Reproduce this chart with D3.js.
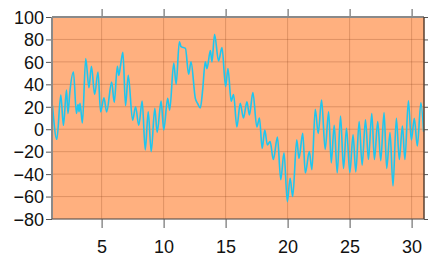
<!DOCTYPE html>
<html>
<head>
<meta charset="utf-8">
<script src="https://cdn.jsdelivr.net/npm/d3@7"></script>
<style>
  body { margin: 0; background: #fff; }
  svg { display: block; font-family: "Liberation Sans", Arial, sans-serif; }
</style>
</head>
<body>
<svg width="428" height="256"></svg>
<script>
// day of month and value
const days = [
  1.04, 1.39, 1.71, 1.92, 2.17, 2.29, 2.43, 2.73, 2.97, 3.10, 3.18, 3.26, 3.45, 3.72, 3.98,
  4.18, 4.44, 4.71, 4.92, 5.19, 5.41, 5.81, 6.02, 6.27, 6.39, 6.53, 6.72, 6.93, 7.15, 7.50,
  7.74, 8.00, 8.27, 8.52, 8.76, 9.00, 9.29, 9.48, 9.80, 10.01, 10.33, 10.49, 10.82, 11.01, 11.27,
  11.41, 11.76, 12.02, 12.21, 12.56, 12.74, 12.96, 13.15, 13.36, 13.50, 13.77, 13.90, 14.11, 14.43, 14.71,
  15.00, 15.19, 15.45, 15.64, 15.91, 16.18, 16.44, 16.72, 16.92, 17.20, 17.52, 17.73, 17.95, 18.16, 18.37,
  18.59, 18.85, 19.18, 19.45, 19.71, 19.98, 20.20, 20.41, 20.74, 20.92, 21.22, 21.43, 21.75, 21.96, 22.23,
  22.47, 22.74, 23.03, 23.31, 23.52, 23.76, 24.00, 24.27, 24.51, 24.75, 25.02, 25.28, 25.50, 25.77, 26.01,
  26.28, 26.52, 26.79, 27.00, 27.27, 27.51, 27.78, 27.99, 28.26, 28.50, 28.77, 29.01, 29.26, 29.46, 29.74,
  29.98, 30.22, 30.46, 30.75, 30.97
];
const values = [
  21, -9, 30.5, 3.5, 35, 14, 32, 51, 14, 22, 15.6, 23, 5.5, 63, 37,
  56, 31, 51, 15.5, 28, 15.5, 42, 24, 56, 48, 57, 68.5, 21, 48, 8,
  20, 3.5, 25, -18.5, 15.5, -20, 18.6, -2.8, 25, -0.7, 27.5, 17, 59, 40, 78,
  73.5, 72, 49, 60, 27.5, 23, 19, 35, 60, 54, 70, 60, 84.6, 60.8, 72.7,
  38, 54, 25, 31, 2, 23, 10, 24.5, 12.7, 32.6, 2, 10, -17, -0.7, -14,
  -11, -27, -7, -45, -21, -64.6, -43.7, -60, -9.4, -26, -3.7, -39, -20, -36, 17.8,
  -3.7, 26, -18, 15.6, -30, 3.6, -39, 11.8, -35, 0.8, -38.7, -5, -38, 6.9, -32,
  8.3, -26.8, 14, -27, 6.9, -28, 14.8, -35, -2.9, -50.6, 9.8, -27, 2.8, -27, 25.4,
  -9.6, 9.8, -15, 23.6, -2.2
];
const xTicks = [5, 10, 15, 20, 25, 30];
const yTicks = [-80, -60, -40, -20, 0, 20, 40, 60, 80, 100];

const data = days.map((d, i) => ({day: d, value: values[i]}));

const margin = {top: 17, right: 4, bottom: 37, left: 52},
    width = 428 - margin.left - margin.right,
    height = 256 - margin.top - margin.bottom;

const svg = d3.select("svg");
const g = svg.append("g")
    .attr("transform", `translate(${margin.left}, ${margin.top})`);

const x = d3.scaleLinear().domain([1, 31]).range([0, width]);
const y = d3.scaleLinear().domain([-80, 100]).range([height, 0]);

// plot background
g.append("rect")
    .attr("width", width)
    .attr("height", height)
    .attr("fill", "#ffb07f");

// grid
g.append("g").selectAll("line").data(xTicks).enter().append("line")
    .attr("x1", d => x(d)).attr("x2", d => x(d))
    .attr("y1", 0).attr("y2", height)
    .attr("stroke", "rgba(140,70,30,0.28)");
g.append("g").selectAll("line").data(yTicks).enter().append("line")
    .attr("y1", d => y(d)).attr("y2", d => y(d))
    .attr("x1", 0).attr("x2", width)
    .attr("stroke", "rgba(140,70,30,0.28)");

// the line
const line = d3.line()
    .x(d => x(d.day))
    .y(d => y(d.value))
    .curve(d3.curveMonotoneX);

g.append("path")
    .datum(data)
    .attr("fill", "none")
    .attr("stroke", "#1ec6ef")
    .attr("stroke-width", 1.6)
    .attr("d", line);

// axes
const xAxis = g.append("g")
    .attr("transform", `translate(0, ${height})`)
    .call(d3.axisBottom(x).tickValues(xTicks).tickSize(9).tickPadding(12));
const xTop = g.append("g")
    .call(d3.axisTop(x).tickValues(xTicks).tickSize(8).tickFormat(""));
const yAxis = g.append("g")
    .call(d3.axisLeft(y).tickValues(yTicks).tickSize(6).tickPadding(2));
const yRight = g.append("g")
    .attr("transform", `translate(${width}, 0)`)
    .call(d3.axisRight(y).tickValues(yTicks).tickSize(5).tickFormat(""));

[xAxis, xTop, yAxis, yRight].forEach(a => {
    a.select(".domain").remove();
    a.selectAll(".tick line").attr("stroke", "#555");
    a.selectAll("text")
        .attr("fill", "#111")
        .attr("font-size", "18px")
        .attr("font-family", "Liberation Sans, Arial, sans-serif");
});
yAxis.selectAll("text").attr("dy", "0.35em");

// frame
g.append("line").attr("x1", 0).attr("x2", width).attr("y1", 0).attr("y2", 0)
    .attr("stroke", "#8a8a8a").attr("stroke-width", 2);
g.append("line").attr("x1", 0).attr("x2", 0).attr("y1", 0).attr("y2", height)
    .attr("stroke", "#8a8a8a").attr("stroke-width", 2);
g.append("line").attr("x1", 0).attr("x2", width).attr("y1", height).attr("y2", height)
    .attr("stroke", "#555").attr("stroke-width", 1);
g.append("line").attr("x1", width).attr("x2", width).attr("y1", 0).attr("y2", height)
    .attr("stroke", "#5a4030").attr("stroke-width", 1.5);
</script>
</body>
</html>
